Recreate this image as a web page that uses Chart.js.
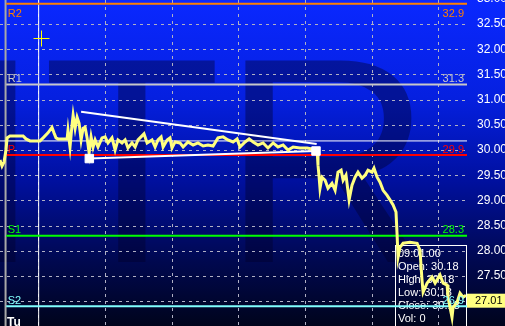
<!DOCTYPE html>
<html>
<head>
<meta charset="utf-8">
<script src="https://cdn.jsdelivr.net/npm/chart.js@4.4.0/dist/chart.umd.min.js"></script>
<style>
html, body { margin: 0; padding: 0; background: #000; }
#wrap { width: 505px; height: 326px; position: relative; }
</style>
</head>
<body>
<div id="wrap"><canvas id="chart"></canvas></div>
<script>
// minutes of the session, price of each traced point
const times = [12.6,13.5,14.4,15.3,15.8,17.1,23.0,24.3,26.1,30.6,
    32.0,34.2,36.0,36.9,37.8,38.7,42.8,43.2,44.1,45.0,
    45.5,46.4,47.3,48.2,49.1,50.0,50.9,51.8,52.7,53.6,
    54.5,55.4,56.7,58.5,59.9,61.2,63.0,64.4,65.7,67.5,
    68.9,70.2,72.0,73.4,74.7,77.4,78.8,81.0,82.4,83.7,
    85.1,86.0,87.8,89.1,90.0,91.4,93.6,95.0,97.2,99.5,
    101.7,104.0,106.2,108.5,110.7,113.0,115.2,117.5,119.3,120.6,
    122.9,124.7,126.5,128.7,131.0,133.2,135.5,137.7,140.0,142.2,
    144.5,147.6,150.8,153.0,155.3,155.7,156.2,156.6,157.5,158.9,
    160.2,162.0,163.4,164.7,166.1,167.0,168.3,169.7,171.0,172.4,
    173.7,175.5,176.9,178.2,180.0,180.9,182.3,183.6,185.0,186.8,
    188.1,189.5,190.8,191.3,191.7,192.6,194.0,197.1,200.3,201.6,
    202.5,203.0,204.8,207.0,208.4,210.6,212.0,213.8,214.2,216.0,
    216.5,218.3,219.6,221.0,222.3];
const prices = [29.80,29.68,29.76,30.00,30.24,30.28,30.28,30.22,30.18,30.18,
    30.24,30.34,30.45,30.34,30.24,30.22,30.22,30.39,30.06,30.49,
    30.69,30.43,30.65,30.53,30.20,30.43,30.45,30.24,29.94,30.26,
    30.06,30.20,30.06,30.24,30.26,30.14,30.24,30.00,30.20,30.14,
    30.20,30.04,30.14,30.06,30.20,30.32,30.14,30.20,30.06,30.20,
    30.26,30.06,30.20,30.24,30.04,30.16,30.14,30.06,30.16,30.10,
    30.14,30.08,30.10,30.08,30.24,30.26,30.20,30.16,30.22,30.06,
    30.16,30.22,30.16,30.10,30.14,30.04,30.14,30.06,30.10,30.00,
    30.06,30.04,30.04,30.02,30.00,29.70,29.46,29.24,29.46,29.40,
    29.24,29.34,29.20,29.56,29.60,29.40,29.50,29.01,29.30,29.46,
    29.56,29.44,29.50,29.60,29.56,29.64,29.46,29.36,29.20,29.10,
    29.01,28.91,28.77,28.31,27.87,28.07,28.15,28.17,28.15,28.01,
    27.42,27.18,27.36,27.48,27.36,27.52,27.36,27.32,27.08,26.68,
    26.88,26.98,27.16,27.08,27.12];
const lastPrice = 27.01;

// pivot levels
const levelNames = ['R2', 'R1', 'P', 'S1', 'S2'];
const levelValues = [32.9, 31.3, 29.9, 28.3, 26.9];

// drawn trend lines (time, price)
const upperTrendTimes = [49.1, 155.1];
const upperTrendPrices = [30.76, 30.12];
const lowerTrendTimes = [52.8, 154.8];
const lowerTrendPrices = [29.83, 29.98];

// crosshair and its info box
const crossTime = 30;
const crossPrice = 30.18;
const infoLines = ['09:01:00', 'Open: 30.18', 'High: 30.18', 'Low: 30.18', 'Close: 30.18', 'Vol: 0'];
const dayLabel = 'Tu';
const watermark = 'ITR';

const timeTicks = [30, 60, 90, 120, 150, 180, 210];
const priceTicks = [27.0, 27.5, 28.0, 28.5, 29.0, 29.5, 30.0, 30.5, 31.0, 31.5, 32.0, 32.5, 33.0];
const xMin = 12.6, xMax = 222.75;
const yMin = 26.508, yMax = 32.976;
const levelStart = 15.4;

const levelColors = ['#ff8000', '#c8c8c8', '#ff0000', '#00ff00', '#80ffff'];
const FONT = '"Liberation Sans", Arial, sans-serif';
const gridColor = '#b0b0c4';

const pts = (xs, ys) => xs.map((x, i) => ({ x: x, y: ys[i] }));
const flat = (v, color, w) => ({
    data: [{ x: levelStart, y: v }, { x: xMax, y: v }],
    borderColor: color, borderWidth: w, pointRadius: 0, showLine: true
});

const datasets = [
    {
        data: pts(lowerTrendTimes, lowerTrendPrices),
        showLine: false, pointStyle: 'rect', pointRadius: 6,
        backgroundColor: '#ffffff', borderColor: '#ffffff', borderWidth: 1
    },
    {
        data: pts(times, prices),
        borderColor: '#ffff80', borderWidth: 3, pointRadius: 0, showLine: true
    },
    {
        data: pts(upperTrendTimes, upperTrendPrices),
        borderColor: '#ffffff', borderWidth: 2, pointRadius: 0, showLine: true
    },
    {
        data: pts(lowerTrendTimes, lowerTrendPrices),
        borderColor: '#ffffff', borderWidth: 2, pointRadius: 0, showLine: true
    }
];
for (let i = 0; i < levelValues.length; i++) {
    datasets.push(flat(levelValues[i], levelColors[i], 2));
}
// crosshair lines and left axis bar
datasets.push({
    data: [{ x: xMin, y: crossPrice }, { x: xMax, y: crossPrice }],
    borderColor: '#ffffff', borderWidth: 1, pointRadius: 0, showLine: true
});
datasets.push({
    data: [{ x: crossTime, y: yMin }, { x: crossTime, y: yMax }],
    borderColor: '#ffffff', borderWidth: 1, pointRadius: 0, showLine: true
});
datasets.push({
    data: [{ x: levelStart - 0.3, y: yMin }, { x: levelStart - 0.3, y: yMax }],
    borderColor: '#a8a8a8', borderWidth: 2, pointRadius: 0, showLine: true
});

const decor = {
    id: 'decor',
    beforeDraw(chart) {
        const ctx = chart.ctx;
        const g = ctx.createLinearGradient(0, 0, 0, chart.height);
        g.addColorStop(0, '#0a28ff');
        g.addColorStop(0.3, '#0520e0');
        g.addColorStop(0.55, '#0010a0');
        g.addColorStop(0.8, '#000850');
        g.addColorStop(1, '#00041c');
        ctx.save();
        ctx.fillStyle = g;
        ctx.fillRect(0, 0, chart.width, chart.height);
        ctx.font = '293px ' + FONT;
        ctx.fillStyle = 'rgba(0,0,40,0.4)';
        ctx.textBaseline = 'alphabetic';
        ctx.fillText(watermark, -39, 262);
        ctx.restore();
    },
    beforeDatasetsDraw(chart) {
        const ctx = chart.ctx;
        const area = chart.chartArea;
        const y = chart.scales.y;
        ctx.save();
        // horizontal dashed grid
        ctx.fillStyle = gridColor;
        priceTicks.forEach(v => {
            const py = Math.round(y.getPixelForValue(v));
            for (let px = area.left; px < area.right - 1; px += 7) {
                ctx.fillRect(px, py, 3, 1);
            }
        });

        // info box
        const left = area.right - 72;
        ctx.strokeStyle = '#ffffff';
        ctx.lineWidth = 1;
        ctx.strokeRect(left + 0.5, 245.5, 71, 100);
        ctx.fillStyle = '#ffffff';
        ctx.font = '11px ' + FONT;
        ctx.textBaseline = 'alphabetic';
        infoLines.forEach((t, i) => ctx.fillText(t, left + 3, 257 + i * 13));
        ctx.restore();
    },
    afterDatasetsDraw(chart) {
        const ctx = chart.ctx;
        const y = chart.scales.y;
        const x = chart.scales.x;
        const area = chart.chartArea;
        ctx.save();
        ctx.font = '11px ' + FONT;
        ctx.textBaseline = 'alphabetic';
        levelValues.forEach((v, i) => {
            const py = y.getPixelForValue(v);
            const base = i === 0 ? py + 13 : py - 2.5;
            ctx.fillStyle = levelColors[i];
            ctx.textAlign = 'left';
            ctx.fillText(levelNames[i], x.getPixelForValue(levelStart) + 1.5, base);
            ctx.textAlign = 'right';
            ctx.fillText(v.toFixed(1), area.right - 3, base);
        });

        // last price tag
        const ly = y.getPixelForValue(lastPrice);
        ctx.fillStyle = '#ffff80';
        ctx.fillRect(area.right, ly - 7, chart.width - area.right, 14);
        ctx.fillStyle = '#000000';
        ctx.textAlign = 'left';
        ctx.textBaseline = 'middle';
        ctx.fillText(lastPrice.toFixed(2), area.right + 8, ly + 0.5);

        // cursor
        const cx = Math.round(x.getPixelForValue(crossTime)) + 2.5;
        const cy = 38.5;
        ctx.strokeStyle = '#ffff00';
        ctx.lineWidth = 1;
        ctx.beginPath();
        ctx.moveTo(cx - 8, cy); ctx.lineTo(cx + 8, cy);
        ctx.moveTo(cx, cy - 8); ctx.lineTo(cx, cy + 8);
        ctx.stroke();

        ctx.fillStyle = '#ffffff';
        ctx.font = 'bold 12px ' + FONT;
        ctx.textBaseline = 'alphabetic';
        ctx.fillText(dayLabel, 7, 326);
        ctx.restore();
    }
};

new Chart(document.getElementById('chart'), {
    type: 'scatter',
    data: { datasets: datasets },
    plugins: [decor],
    options: {
        responsive: true,
        maintainAspectRatio: false,
        animation: false,
        layout: { padding: 0, autoPadding: false },
        plugins: { legend: { display: false }, tooltip: { enabled: false } },
        scales: {
            x: {
                type: 'linear', min: xMin, max: xMax,
                afterBuildTicks: s => { s.ticks = timeTicks.map(v => ({ value: v })); },
                afterFit: s => { s.height = 0; s.paddingLeft = 0; s.paddingRight = 0; },
                ticks: { display: false },
                grid: { color: gridColor, drawTicks: false, lineWidth: 1 },
                border: { display: false, dash: [3, 4] }
            },
            y: {
                type: 'linear', position: 'right', min: yMin, max: yMax,
                afterBuildTicks: s => { s.ticks = priceTicks.map(v => ({ value: v })); },
                afterFit: s => { s.width = 38; s.paddingTop = 0; s.paddingBottom = 0; },
                ticks: {
                    color: '#ffffff', padding: 2, autoSkip: false,
                    font: { family: FONT, size: 12 },
                    callback: v => v.toFixed(2)
                },
                grid: { display: false },
                border: { display: false }
            }
        }
    }
});
</script>
</body>
</html>
